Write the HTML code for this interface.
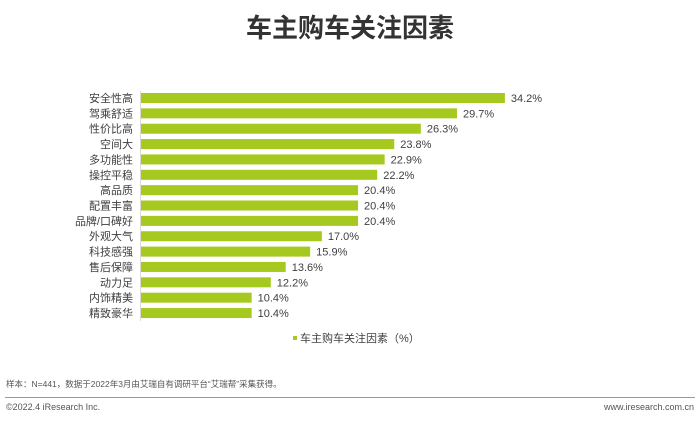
<!DOCTYPE html>
<html><head><meta charset="utf-8"><style>
body{margin:0;width:700px;height:421px;background:#fff;position:relative;overflow:hidden;font-family:"Liberation Sans","Noto Sans CJK SC",sans-serif;}
.t{position:absolute;white-space:nowrap}
</style></head><body>
<div class="t" style="left:0;width:700px;top:8px;text-align:center;font-size:26px;font-weight:bold;color:#333;">车主购车关注因素</div>
<svg width="700" height="421" style="position:absolute;left:0;top:0" font-family="Liberation Sans, Noto Sans CJK SC, sans-serif" font-size="11" fill="#404040">
<line x1="140.5" y1="91" x2="140.5" y2="321" stroke="#d9d9d9"/>
<g id="bars"></g>
<rect x="293" y="336" width="4" height="4" fill="#a5c91f"/>
<text x="300" y="342" font-size="11">车主购车关注因素（%）</text>
<text x="6" y="387" font-size="8.5" fill="#555">样本：N=441，数据于2022年3月由艾瑞自有调研平台“艾瑞帮”采集获得。</text>
<line x1="5" y1="397.5" x2="695" y2="397.5" stroke="#999"/>
<text x="6" y="410" font-size="9" fill="#555">©2022.4 iResearch Inc.</text>
<text x="694" y="410" font-size="9" fill="#555" text-anchor="end">www.iresearch.com.cn</text>
</svg>
<script>
var d=[["安全性高",34.2],["驾乘舒适",29.7],["性价比高",26.3],["空间大",23.8],["多功能性",22.9],["操控平稳",22.2],["高品质",20.4],["配置丰富",20.4],["品牌/口碑好",20.4],["外观大气",17.0],["科技感强",15.9],["售后保障",13.6],["动力足",12.2],["内饰精美",10.4],["精致豪华",10.4]];
var g=document.getElementById('bars'),h='';
d.forEach(function(r,i){var y=98+i*15.36,w=r[1]*10.64;
h+='<rect x="141" y="'+(y-5)+'" width="'+w+'" height="10" fill="#a5c91f"/>';
h+='<text x="133" y="'+(y+4)+'" text-anchor="end">'+r[0]+'</text>';
h+='<text x="'+(141+w+6)+'" y="'+(y+4)+'">'+r[1].toFixed(1)+'%</text>';});
g.innerHTML=h;
</script>
</body></html>
